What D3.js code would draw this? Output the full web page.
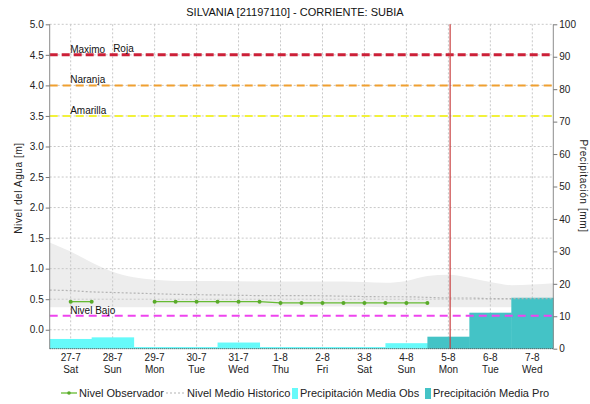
<!DOCTYPE html>
<html>
<head>
<meta charset="utf-8">
<script src="https://cdn.jsdelivr.net/npm/d3@7"></script>
<style>
  html, body { margin: 0; padding: 0; background: #fff; }
  svg { display: block; font-family: "Liberation Sans", Arial, sans-serif; }
</style>
</head>
<body>
<svg id="chart" width="590" height="404"></svg>
<script>
// Day bands (one per day) and their labels
const dayLabels = ["27-7", "28-7", "29-7", "30-7", "31-7", "1-8", "2-8", "3-8", "4-8", "5-8", "6-8", "7-8"];
const weekdayLabels = ["Sat", "Sun", "Mon", "Tue", "Wed", "Thu", "Fri", "Sat", "Sun", "Mon", "Tue", "Wed"];

// Daily precipitation [mm]: observed and forecast (null = none)
const precipObs = [3.0, 3.5, 0.5, 0.5, 1.9, 0.5, 0.5, 0.5, 1.7, null, null, null];
const precipPro = [null, null, null, null, null, null, null, null, null, 3.7, 11.1, 15.7];

// Observed water level [m], hours since 27-7 00:00
const obsHours = [12, 24, 60, 72, 84, 96, 108, 120, 132, 144, 156, 168, 180, 192, 204, 216];
const obsLevel = [0.46, 0.46, 0.46, 0.46, 0.46, 0.46, 0.46, 0.46, 0.44, 0.44, 0.44, 0.44, 0.44, 0.44, 0.44, 0.44];

// Historical mean level and its range [m]
const histHours = [0, 12, 24, 36, 48, 60, 72, 96, 120, 144, 168, 192, 204, 216, 228, 240, 252, 264, 276, 288];
const histUpper = [1.43, 1.28, 1.10, 0.95, 0.86, 0.82, 0.80, 0.80, 0.79, 0.79, 0.79, 0.77, 0.80, 0.88, 0.90, 0.85, 0.78, 0.73, 0.74, 0.76];
const histLower = [0.37, 0.37, 0.37, 0.37, 0.37, 0.37, 0.37, 0.38, 0.38, 0.38, 0.38, 0.37, 0.37, 0.37, 0.37, 0.37, 0.37, 0.37, 0.37, 0.37];
const histMean  = [0.65, 0.64, 0.62, 0.61, 0.60, 0.59, 0.58, 0.57, 0.56, 0.56, 0.55, 0.54, 0.54, 0.53, 0.52, 0.52, 0.51, 0.51, 0.51, 0.51];

// Alert thresholds [m]
const thresholdNames = ["Roja", "Naranja", "Amarilla", "Nivel Bajo"];
const thresholdValues = [4.5, 4.0, 3.5, 0.23];
const thresholdColors = ["#cc2038", "#f0a030", "#f2f23a", "#ee44ee"];
const thresholdLabels = ["Maximo", "Naranja", "Amarilla", "Nivel Bajo"];

// Current time marker (hours since 27-7 00:00)
const nowHour = 229;

const levelTicks = [0.0, 0.5, 1.0, 1.5, 2.0, 2.5, 3.0, 3.5, 4.0, 4.5, 5.0];
const precipTicks = [0, 10, 20, 30, 40, 50, 60, 70, 80, 90, 100];

const titleText = "SILVANIA [21197110] - CORRIENTE: SUBIA";

const svg = d3.select("#chart");
const plotLeft = 49.7, plotRight = 553.3, plotTop = 24.3, plotBottom = 348.7;

const x = d3.scaleLinear().domain([0, dayLabels.length * 24]).range([plotLeft, plotRight]);
const yL = d3.scaleLinear().domain([-0.31, 5.0]).range([plotBottom, plotTop]);
const yR = d3.scaleLinear().domain([0, 100]).range([plotBottom, plotTop]);

// Title
svg.append("text").attr("x", 295).attr("y", 16).attr("text-anchor", "middle")
  .attr("font-size", 11).attr("fill", "#111").text(titleText);

// Historical range band
const band = histHours.map((h, i) => ({ h, lo: histLower[i], hi: histUpper[i] }));
svg.append("path").datum(band)
  .attr("fill", "#ededed")
  .attr("d", d3.area().curve(d3.curveMonotoneX).x(d => x(d.h)).y0(d => yL(d.lo)).y1(d => yL(d.hi)));

// Grid
const grid = svg.append("g").attr("stroke", "#c8c8c8").attr("stroke-dasharray", "2,2").attr("stroke-width", 1);
levelTicks.forEach(v => grid.append("line").attr("x1", plotLeft).attr("x2", plotRight).attr("y1", yL(v)).attr("y2", yL(v)));
dayLabels.forEach((d, i) => grid.append("line").attr("x1", x(i * 24 + 12)).attr("x2", x(i * 24 + 12)).attr("y1", plotTop).attr("y2", plotBottom));

// Precipitation bars (step per day)
function drawBars(values, color) {
  svg.append("g").selectAll("rect")
    .data(values.map((v, i) => ({ v, i })).filter(d => d.v !== null))
    .join("rect")
    .attr("x", d => x(d.i * 24))
    .attr("width", d => x((d.i + 1) * 24) - x(d.i * 24) + 0.5)
    .attr("y", d => yR(d.v))
    .attr("height", d => yR(0) - yR(d.v))
    .attr("fill", color);
}
drawBars(precipObs, "#66fafa");
drawBars(precipPro, "#44c3c6");

// Historical mean line
svg.append("path").datum(histHours.map((h, i) => ({ h, v: histMean[i] })))
  .attr("fill", "none").attr("stroke", "#b4b4b4").attr("stroke-width", 1.2).attr("stroke-dasharray", "2,2")
  .attr("d", d3.line().curve(d3.curveMonotoneX).x(d => x(d.h)).y(d => yL(d.v)));

// Threshold lines
thresholdValues.forEach((v, i) => {
  svg.append("line").attr("x1", plotLeft).attr("x2", plotRight).attr("y1", yL(v)).attr("y2", yL(v))
    .attr("stroke", thresholdColors[i]).attr("stroke-width", i === 0 ? 3 : 2)
    .attr("stroke-dasharray", i === 0 ? "8,4" : "8,5");
});
const tl = svg.append("g").attr("font-size", 10).attr("fill", "#111");
thresholdValues.forEach((v, i) => {
  tl.append("text").attr("x", x(12) - 0.5).attr("y", yL(v) - 2).text(thresholdLabels[i]);
});
tl.append("text").attr("x", x(36) + 0.5).attr("y", yL(thresholdValues[0]) - 3).text(thresholdNames[0]);

// Observed level: two runs separated by a gap in the record
const obs = obsHours.map((h, i) => ({ h, v: obsLevel[i] }));
const obsRuns = [obs.slice(0, 2), obs.slice(2)];
const obsLine = d3.line().x(d => x(d.h)).y(d => yL(d.v));
svg.append("g").selectAll("path").data(obsRuns).join("path")
  .attr("fill", "none").attr("stroke", "#66bb33").attr("stroke-width", 1.3)
  .attr("d", obsLine);
svg.append("g").selectAll("circle").data(obs).join("circle")
  .attr("cx", d => x(d.h)).attr("cy", d => yL(d.v)).attr("r", 2).attr("fill", "#5aaa2a");

// Current time marker
svg.append("line").attr("x1", x(nowHour)).attr("x2", x(nowHour)).attr("y1", plotTop).attr("y2", plotBottom)
  .attr("stroke", "#c84040").attr("stroke-width", 1.2);

// Frame
svg.append("line").attr("x1", plotLeft).attr("x2", plotLeft).attr("y1", plotTop).attr("y2", plotBottom).attr("stroke", "#8c8c8c");
svg.append("line").attr("x1", plotRight).attr("x2", plotRight).attr("y1", plotTop).attr("y2", plotBottom).attr("stroke", "#8c8c8c");
svg.append("line").attr("x1", plotLeft).attr("x2", plotRight).attr("y1", plotBottom).attr("y2", plotBottom)
  .attr("stroke", "#333").attr("stroke-dasharray", "1,1");

// Left axis
const axL = svg.append("g").attr("transform", `translate(${plotLeft},0)`)
  .call(d3.axisLeft(yL).tickValues(levelTicks).tickFormat(d3.format(".1f")).tickSize(4).tickPadding(2));
axL.select(".domain").remove();
axL.selectAll("line").attr("stroke", "#777");
axL.selectAll("text").attr("font-size", 10).attr("fill", "#222").attr("font-family", "Liberation Sans, Arial, sans-serif");

// Right axis
const axR = svg.append("g").attr("transform", `translate(${plotRight},0)`)
  .call(d3.axisRight(yR).tickValues(precipTicks).tickSize(4).tickPadding(2));
axR.select(".domain").remove();
axR.selectAll("line").attr("stroke", "#777");
axR.selectAll("text").attr("font-size", 10).attr("fill", "#222").attr("font-family", "Liberation Sans, Arial, sans-serif");

// Day labels
const xl = svg.append("g").attr("font-size", 10).attr("fill", "#222").attr("text-anchor", "middle");
dayLabels.forEach((d, i) => {
  xl.append("text").attr("x", x(i * 24 + 12)).attr("y", 361).text(d);
  xl.append("text").attr("x", x(i * 24 + 12)).attr("y", 373).text(weekdayLabels[i]);
});

// Axis titles
svg.append("text").attr("transform", "translate(22,188) rotate(-90)").attr("text-anchor", "middle")
  .attr("font-size", 10).attr("letter-spacing", 0.6).attr("fill", "#222").text("Nivel del Agua [m]");
svg.append("text").attr("transform", "translate(580,186) rotate(90)").attr("text-anchor", "middle")
  .attr("font-size", 10).attr("letter-spacing", 0.6).attr("fill", "#222").text("Precipitación [mm]");

// Legend
const lg = svg.append("g").attr("font-size", 11).attr("fill", "#222");
const ly = 397;
lg.append("line").attr("x1", 61).attr("x2", 77).attr("y1", ly - 4).attr("y2", ly - 4).attr("stroke", "#66bb33").attr("stroke-width", 1.3);
lg.append("circle").attr("cx", 69).attr("cy", ly - 4).attr("r", 1.8).attr("fill", "#5aaa2a");
lg.append("text").attr("x", 79).attr("y", ly).text("Nivel Observador");
lg.append("line").attr("x1", 166).attr("x2", 184).attr("y1", ly - 4).attr("y2", ly - 4).attr("stroke", "#b4b4b4").attr("stroke-width", 1.2).attr("stroke-dasharray", "2,2");
lg.append("text").attr("x", 187).attr("y", ly).text("Nivel Medio Historico");
lg.append("rect").attr("x", 292).attr("y", ly - 9).attr("width", 6).attr("height", 11).attr("fill", "#66fafa");
lg.append("text").attr("x", 300).attr("y", ly).text("Precipitación Media Obs");
lg.append("rect").attr("x", 425).attr("y", ly - 9).attr("width", 6).attr("height", 11).attr("fill", "#44c3c6");
lg.append("text").attr("x", 433).attr("y", ly).text("Precipitación Media Pro");
</script>
</body>
</html>
